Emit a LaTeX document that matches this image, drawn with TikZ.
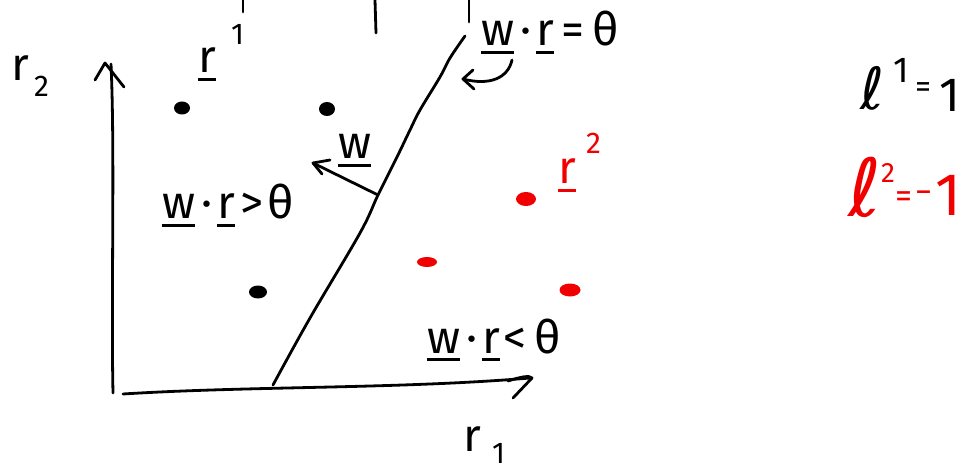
\documentclass[tikz,border=0pt]{standalone}
\usepackage{fontspec}
\setmainfont{Fira Sans}
\newfontfamily\ellfont{DejaVu Sans}
\usetikzlibrary{shapes.geometric}
\definecolor{redink}{RGB}{240,0,0}
% thick hand-drawn underline under a piece of text
\newcommand\handul[1]{\leavevmode\setbox0=\hbox{#1}\rlap{\raisebox{-8pt}{\rule{\wd0}{2.6pt}}}\box0}
\tikzset{
  stroke/.style={line width=2.8pt, line cap=round, line join=round},
  lbl/.style={inner sep=0pt, font=\fontsize{46}{50}\selectfont},
  idx/.style={inner sep=0pt, font=\fontsize{30}{34}\selectfont},
  dotb/.style={ellipse, fill=black, inner sep=0pt},
  dotr/.style={ellipse, fill=redink, inner sep=0pt},
}
\begin{document}
\begin{tikzpicture}[x=1pt, y=-1pt]
\useasboundingbox (0,0) rectangle (964,473);

% small strokes at the top edge
\draw[stroke] (243,0) -- (243,12);
\draw[stroke] (375,0) -- (376,33);
\draw[stroke] (469,0) -- (469,22);

% axes
\coordinate (yb) at (113,393);
\coordinate (yt) at (111,64);
\draw[stroke] (yb) .. controls (111,300) and (115,150) .. (yt);
\draw[stroke] (95,80) -- (105,63) -- (124,87);
\coordinate (xl) at (123,394);
\coordinate (xr) at (530,378);
\draw[stroke] (xl) .. controls (250,386) and (400,389) .. (xr);
\draw[stroke] (508,381) .. controls (520,377) and (530,375) .. (532,378) -- (513,398);

% decision boundary
\coordinate (bt) at (465,36);
\coordinate (bb) at (273,385);
\draw[stroke] plot[smooth, tension=0.6] coordinates
  {(bt) (450,58) (440,77) (420,110) (410,130) (397,157) (378,195) (360,233) (310,318) (bb)};

% weight vector
\coordinate (wb) at (378,195);
\coordinate (wt) at (313,163);
\draw[stroke] (wb) -- (wt);
\draw[stroke] (330,160) -- (wt) -- (322,174);
\node[lbl, anchor=base west] (wlab) at (338,159) {\handul{w}};

% curved pointer from the boundary equation
\coordinate (ca) at (512,60);
\coordinate (cb) at (463,79);
\draw[stroke] (ca) .. controls (508,78) and (490,86) .. (cb);
\draw[stroke] (473,70) -- (cb) -- (474,89);

% data points
\node[dotb, minimum width=16pt, minimum height=13pt] (p1) at (182,108) {};
\node[dotb, minimum width=16pt, minimum height=14pt] (p2) at (327,109) {};
\node[dotb, minimum width=18pt, minimum height=13pt] (p3) at (258,292) {};
\node[dotr, minimum width=20pt, minimum height=14pt] (q1) at (526,199) {};
\node[dotr, minimum width=20pt, minimum height=10pt] (q2) at (427,262) {};
\node[dotr, minimum width=21pt, minimum height=13pt] (q3) at (570,290) {};

% axis labels
\node[lbl, anchor=base west] (r2) at (11,81) {r};
\node[idx, anchor=base west] (r2i) at (34,97) {2};
\node[lbl, anchor=base west] (r1) at (463,451) {r};
\node[idx, anchor=base west] (r1i) at (492,463) {1};

% class labels
\node[lbl, anchor=base west] (rr1) at (198,73) {\handul{r}};
\node[idx, anchor=base west] (rr1i) at (231,45) {1};
\node[lbl, anchor=base west, text=redink] (rr2) at (558,184) {\handul{r}};
\node[idx, anchor=base west, text=redink] (rr2i) at (586,154) {2};

% inequalities
\node[lbl, anchor=base west] (eq) at (481,46) {\handul{w}\hspace{6pt}·\hspace{5pt}\handul{r}\hspace{8pt}=\hspace{8pt}θ};
\node[lbl, anchor=base west] (gt) at (162,219) {\handul{w}\hspace{6pt}·\hspace{5pt}\handul{r}\hspace{6pt}>\hspace{4pt}θ};
\node[lbl, anchor=base west] (lt) at (427,353) {\handul{w}\hspace{6pt}·\hspace{5pt}\handul{r}\hspace{4pt}<\hspace{8pt}θ};

% targets
\node[inner sep=0pt, anchor=base west, font=\ellfont\fontsize{58}{62}\selectfont] (l1) at (860,110) {ℓ};
\node[idx, font=\fontsize{36}{40}\selectfont, anchor=base west] (l1i) at (893,83) {1};
\node[lbl, font=\fontsize{32}{36}\selectfont, anchor=center] (l1eq) at (923,90) {=};
\node[lbl, font=\fontsize{48}{52}\selectfont, anchor=center] (l1v) at (950,95) {1};
\node[inner sep=0pt, anchor=base west, text=redink, font=\ellfont\fontsize{80}{86}\selectfont] (l2) at (848,217) {ℓ};
\node[idx, font=\fontsize{28}{32}\selectfont, text=redink, anchor=center] (l2i) at (888,173) {2};
\node[lbl, font=\fontsize{34}{38}\selectfont, text=redink, anchor=center] (l2eq) at (904,200) {=};
\node[inner sep=0pt, text=redink, anchor=base west, font=\fontsize{60}{66}\selectfont] (l2v) at (915,216)
  {\raisebox{13pt}{\fontsize{34}{38}\selectfont −}\hspace{3pt}1};
\end{tikzpicture}
\end{document}
